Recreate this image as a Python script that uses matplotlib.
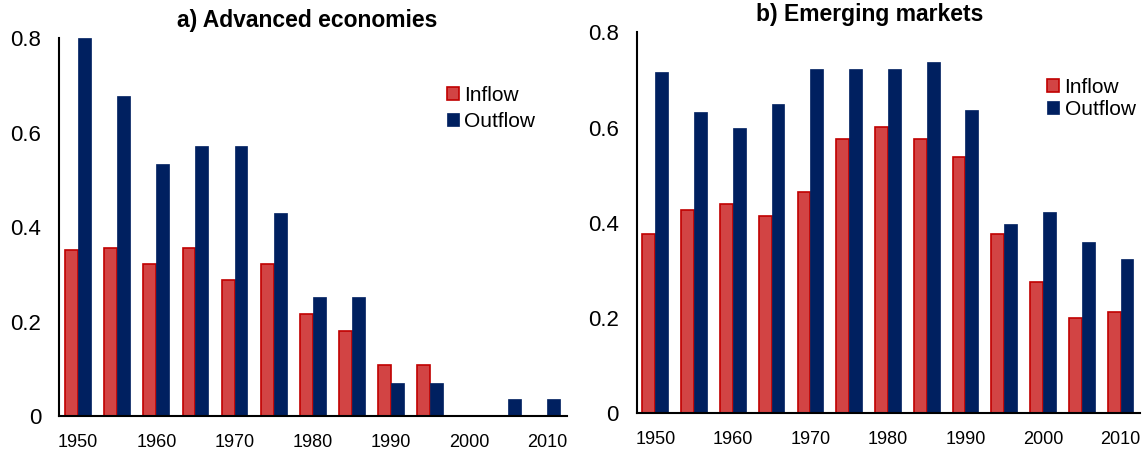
import numpy as np
import matplotlib
matplotlib.use("Agg")
import matplotlib.pyplot as plt

plt.rcParams["font.family"] = ["Liberation Sans", "DejaVu Sans"]

years = [1950, 1955, 1960, 1965, 1970, 1975, 1980, 1985, 1990, 1995, 2000, 2005, 2010]
year_labels = [1950, 1960, 1970, 1980, 1990, 2000, 2010]
y_ticks = [0, 0.2, 0.4, 0.6, 0.8]
y_tick_labels = ["0", "0.2", "0.4", "0.6", "0.8"]

# a) Advanced economies
adv_inflow = [0.352, 0.356, 0.322, 0.356, 0.288, 0.322, 0.217, 0.179, 0.107, 0.107, 0.0, 0.0, 0.0]
adv_outflow = [0.8, 0.677, 0.534, 0.572, 0.572, 0.429, 0.251, 0.251, 0.069, 0.069, 0.0, 0.036, 0.036]

# b) Emerging markets
em_inflow = [0.376, 0.426, 0.440, 0.414, 0.464, 0.577, 0.602, 0.577, 0.539, 0.376, 0.276, 0.200, 0.213]
em_outflow = [0.716, 0.632, 0.599, 0.649, 0.724, 0.724, 0.724, 0.737, 0.636, 0.398, 0.423, 0.360, 0.323]

INFLOW_FILL = "#D24444"
INFLOW_EDGE = "#C00000"
OUTFLOW_FILL = "#002060"


def draw_panel(ax, inflow, outflow, title, title_x, legend_pos, row_gap):
    x = np.array(years, dtype=float)
    w = 1.65
    ax.bar(x - w / 2, inflow, width=w, color=INFLOW_FILL, edgecolor=INFLOW_EDGE,
           linewidth=1.2, label="Inflow", zorder=2)
    ax.bar(x + w / 2, outflow, width=w, color=OUTFLOW_FILL, edgecolor=OUTFLOW_FILL,
           linewidth=0.5, label="Outflow", zorder=2)

    ax.set_xlim(1950 - 2.4, 2010 + 2.5)
    ax.set_ylim(0, 0.8)
    ax.set_yticks(y_ticks)
    ax.set_yticklabels(y_tick_labels)
    ax.set_xticks(year_labels)
    ax.tick_params(axis="y", length=0, pad=13, labelsize=16)
    ax.tick_params(axis="x", length=0, pad=13, labelsize=13)

    for side in ["top", "right"]:
        ax.spines[side].set_visible(False)
    for side in ["left", "bottom"]:
        ax.spines[side].set_linewidth(1.5)
        ax.spines[side].set_color("black")
        ax.spines[side].set_zorder(5)

    ax.text(title_x, 1.0 + 18 / 380, title, transform=ax.transAxes,
            ha="center", va="center", fontsize=16.5, fontweight="bold")

    ax.legend(loc="upper left", bbox_to_anchor=legend_pos, frameon=False,
              fontsize=15, handlelength=0.6, handleheight=0.6,
              handletextpad=0.25, labelspacing=row_gap, borderpad=0,
              borderaxespad=0)


fig = plt.figure(figsize=(11.48, 4.5), dpi=100)
ax_a = fig.add_axes([0.0517, 0.0756, 0.4422, 0.8393])
ax_b = fig.add_axes([0.5546, 0.0816, 0.4384, 0.8466])

draw_panel(ax_a, adv_inflow, adv_outflow, "a) Advanced economies", 0.488, (0.763, 0.875), 0.35)
draw_panel(ax_b, em_inflow, em_outflow, "b) Emerging markets", 0.463, (0.815, 0.88), 0.15)

fig.savefig("out.png", dpi=100)
